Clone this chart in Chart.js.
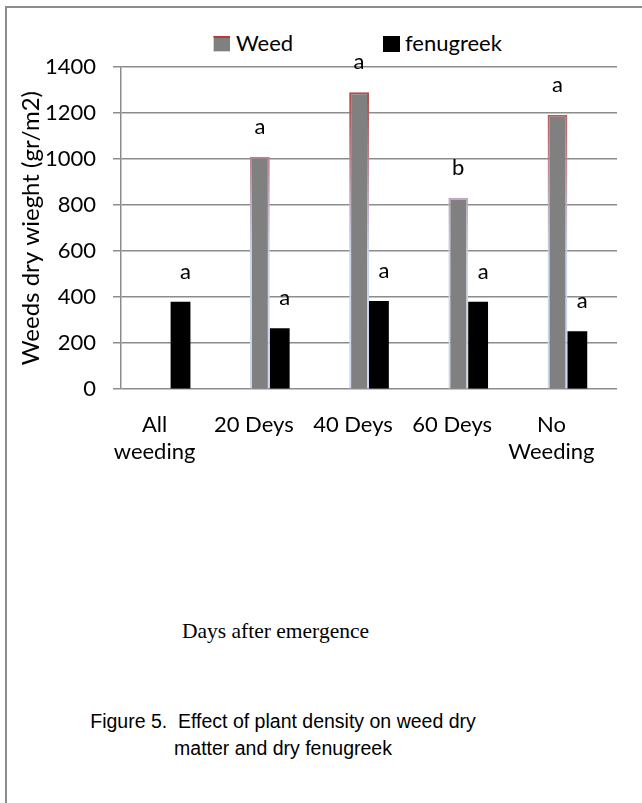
<!DOCTYPE html>
<html>
<head>
<meta charset="utf-8">
<script src="https://cdn.jsdelivr.net/npm/chart.js@4"></script>
<style>
  html, body { margin: 0; padding: 0; background: #fff; }
  body { width: 642px; height: 803px; position: relative; overflow: hidden; font-family: Lato, sans-serif; }
  #frame { position: absolute; left: 5px; top: 6px; right: 0; bottom: 0; border-left: 2px solid #8c8c8c; border-top: 2px solid #8c8c8c; }
  #chartBox { position: absolute; left: 0; top: 0; width: 642px; height: 488px; }
  .sw { position: absolute; top: 36px; width: 17px; height: 16px; box-sizing: border-box; }
  .lt { position: absolute; top: 32px; font: 22px Lato, sans-serif; line-height: 22px; color: #000; white-space: nowrap; }
  #xtitle { position: absolute; left: 0; width: 551px; top: 618px; text-align: center; font: 21.5px "Liberation Serif", serif; line-height: 26px; color: #000; }
  #caption { position: absolute; left: 0; width: 566px; top: 708px; text-align: center; font: 19.5px "Liberation Sans", Arial, sans-serif; line-height: 27px; color: #000; }
</style>
</head>
<body>
<div id="frame"></div>
<div id="legend"></div>
<div id="chartBox"><canvas id="chart"></canvas></div>
<div id="xtitle">Days after emergence</div>
<div id="caption">Figure 5.&nbsp; Effect of plant density on weed dry<br>matter and dry fenugreek</div>
<script>
const categories = [["All", "weeding"], "20 Deys", "40 Deys", "60 Deys", ["No", "Weeding"]];
const seriesNames = ["Weed", "fenugreek"];
const weedValues = [null, 1010, 1290, 832, 1192];
const fenugreekValues = [380, 265, 383, 380, 252];
const weedLetters = ["", "a", "a", "b", "a"];
const fenugreekLetters = ["a", "a", "a", "a", "a"];
const yTicks = [0, 200, 400, 600, 800, 1000, 1200, 1400];

// legend sits outside the canvas, like the Excel one
const legend = document.getElementById("legend");
legend.innerHTML = `
  <div class="sw" style="left:213px;background:#808080;border-top:2px solid #b23b3b;border-left:1px solid #c9d5ee;border-bottom:1px solid #c9d5ee;"></div>
  <div class="lt" style="left:236px">${seriesNames[0]}</div>
  <div class="sw" style="left:383px;background:#000;"></div>
  <div class="lt" style="left:405px">${seriesNames[1]}</div>`;

const weedBorder = (c) => {
  const area = c.chart.chartArea;
  if (!area) return "#b23b3b";
  const g = c.chart.ctx.createLinearGradient(0, area.top, 0, area.bottom);
  g.addColorStop(0, "#b23434");
  g.addColorStop(0.2, "#b86a70");
  g.addColorStop(0.42, "#c2aac4");
  g.addColorStop(0.6, "#c9d6f0");
  g.addColorStop(1, "#cbd8f2");
  return g;
};

const letterPlugin = {
  id: "letters",
  afterDatasetsDraw(chart, args, opts) {
    const ctx = chart.ctx;
    ctx.save();
    ctx.font = "22px Lato";
    ctx.fillStyle = "#000";
    ctx.textAlign = "center";
    ctx.textBaseline = "middle";
    chart.data.datasets.forEach((ds, i) => {
      chart.getDatasetMeta(i).data.forEach((bar, j) => {
        const t = ds.letters[j];
        if (!t || ds.data[j] == null) return;
        ctx.fillText(t, bar.x + opts.shift[i], bar.y - opts.gap);
      });
    });
    ctx.restore();
  },
};

new Chart(document.getElementById("chart"), {
  type: "bar",
  data: {
    labels: categories,
    datasets: [
      {
        label: seriesNames[0],
        data: weedValues,
        letters: weedLetters,
        backgroundColor: "#808080",
        borderColor: weedBorder,
        borderWidth: 2,
      },
      {
        label: seriesNames[1],
        data: fenugreekValues,
        letters: fenugreekLetters,
        backgroundColor: "#000000",
        borderWidth: 0,
      },
    ],
  },
  options: {
    responsive: true,
    maintainAspectRatio: false,
    devicePixelRatio: 1,
    animation: false,
    categoryPercentage: 0.4,
    barPercentage: 1.0,
    layout: { padding: { left: 8, right: 25, top: 67, bottom: 0 } },
    plugins: {
      legend: { display: false },
      tooltip: { enabled: false },
      letters: { gap: 30, shift: [0, 5] },
    },
    scales: {
      x: {
        grid: { display: false, drawTicks: false },
        border: { display: false },
        ticks: {
          color: "#000",
          font: { family: "Lato", size: 22, lineHeight: 1.2 },
          padding: 23,
          maxRotation: 0,
          autoSkip: false,
          labelOffset: -16,
        },
      },
      y: {
        min: 0,
        max: 1400,
        afterBuildTicks: (s) => { s.ticks = yTicks.map((v) => ({ value: v })); },
        afterFit: (s) => { s.width = 113; },
        grid: { color: "#8c8c8c", lineWidth: 1.5, tickLength: 8 },
        border: { display: true, color: "#8c8c8c", width: 1.5 },
        ticks: {
          color: "#000",
          font: { family: "Lato", size: 22 },
          padding: 17,
          callback: (v) => String(v),
        },
        title: {
          display: true,
          text: "Weeds dry wieght (gr/m2)",
          color: "#000",
          font: { family: "Lato", size: 24 },
          padding: { top: 9, bottom: 0 },
        },
      },
    },
  },
  plugins: [letterPlugin],
});
</script>
</body>
</html>
